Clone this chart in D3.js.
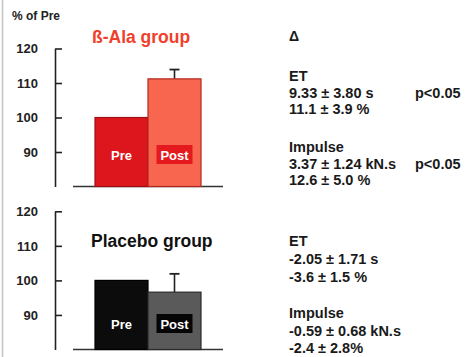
<!DOCTYPE html>
<html>
<head>
<meta charset="utf-8">
<script src="https://cdn.jsdelivr.net/npm/d3@7"></script>
<style>
  html, body { margin: 0; padding: 0; background: #fff; }
  svg { display: block; }
  text { font-family: "Liberation Sans", Arial, Helvetica, sans-serif; font-weight: bold; }
</style>
</head>
<body>
<svg id="chart" width="467" height="357"></svg>
<script>
// ---- data ----
const conditions = ["Pre", "Post"];
const yTicks = [90, 100, 110, 120];
const yDomain = [80, 120];
const yAxisTitle = "% of Pre";

const betaTitle = "ß-Ala group";
const betaValues = [100, 111.2];
const betaErrors = [0, 2.7];

const placeboTitle = "Placebo group";
const placeboValues = [100, 96.6];
const placeboErrors = [0, 5.3];

const deltaHeader = "Δ";
const betaStats = [
  ["ET", ""],
  ["9.33 ± 3.80 s", "p<0.05"],
  ["11.1 ± 3.9 %", ""],
  ["Impulse", ""],
  ["3.37 ± 1.24 kN.s", "p<0.05"],
  ["12.6 ± 5.0 %", ""]
];
const placeboStats = [
  ["ET", ""],
  ["-2.05 ± 1.71 s", ""],
  ["-3.6 ± 1.5 %", ""],
  ["Impulse", ""],
  ["-0.59 ± 0.68 kN.s", ""],
  ["-2.4 ± 2.8%", ""]
];

// ---- drawing ----
const svg = d3.select("#chart");

// left border line of the figure
svg.append("line").attr("x1", 2.5).attr("x2", 2.5).attr("y1", 0).attr("y2", 357)
  .attr("stroke", "#c4c4c4").attr("stroke-width", 1.5);

svg.append("text").attr("x", 12).attr("y", 20).attr("font-size", 12)
  .attr("fill", "#222").text(yAxisTitle);

const x = d3.scaleBand().domain(conditions).range([95, 201]).padding(0);

function panel(cfg) {
  const y = d3.scaleLinear().domain(yDomain).range(cfg.yRange);
  const g = svg.append("g");

  const axis = d3.axisLeft(y).tickValues(yTicks).tickSizeInner(-7).tickSizeOuter(0)
    .tickPadding(17).tickFormat(d3.format("d"));
  const ag = g.append("g").attr("transform", "translate(55,0)").call(axis);
  ag.select(".domain").attr("stroke", "#222").attr("stroke-width", 1.6);
  ag.selectAll(".tick line").attr("stroke", "#222").attr("stroke-width", 1.6);
  ag.selectAll(".tick text").attr("font-size", 13).attr("fill", "#222")
    .attr("font-family", "Liberation Sans, Arial, sans-serif").attr("font-weight", "bold");

  // baseline
  g.append("line")
    .attr("x1", x.range()[0] - 22).attr("x2", x.range()[1] + 22)
    .attr("y1", y(yDomain[0])).attr("y2", y(yDomain[0]))
    .attr("stroke", "#333").attr("stroke-width", 1.6);

  // error bars (upper only)
  conditions.forEach((c, i) => {
    if (cfg.errors[i] > 0) {
      const cx = x(c) + x.bandwidth() / 2;
      const yTop = y(cfg.values[i] + cfg.errors[i]);
      g.append("line").attr("x1", cx).attr("x2", cx)
        .attr("y1", y(cfg.values[i])).attr("y2", yTop)
        .attr("stroke", "#222").attr("stroke-width", 1.6);
      g.append("line").attr("x1", cx - 5).attr("x2", cx + 5)
        .attr("y1", yTop).attr("y2", yTop)
        .attr("stroke", "#222").attr("stroke-width", 1.8);
    }
  });

  // bars
  g.selectAll("rect.bar").data(conditions).enter().append("rect")
    .attr("class", "bar")
    .attr("x", d => x(d))
    .attr("width", x.bandwidth())
    .attr("y", (d, i) => y(cfg.values[i]))
    .attr("height", (d, i) => y(yDomain[0]) - y(cfg.values[i]))
    .attr("fill", (d, i) => cfg.fills[i])
    .attr("stroke", (d, i) => cfg.strokes[i])
    .attr("stroke-width", 1.2);

  // Post label box
  const px = x("Post") + x.bandwidth() / 2;
  g.append("rect").attr("x", px - 18).attr("width", 36)
    .attr("y", cfg.labelY - 15).attr("height", 19).attr("fill", cfg.boxFill);

  conditions.forEach(c => {
    g.append("text").attr("x", x(c) + x.bandwidth() / 2).attr("y", cfg.labelY)
      .attr("text-anchor", "middle").attr("font-size", 13).attr("fill", "#fff").text(c);
  });

  // group title
  g.append("text").attr("x", cfg.titleX).attr("y", cfg.titleY).attr("font-size", 17.5)
    .attr("fill", cfg.titleColor).text(cfg.title);

  // stats text
  cfg.stats.forEach((row, i) => {
    g.append("text").attr("x", 289).attr("y", cfg.statY[i]).attr("font-size", 14.5)
      .attr("fill", "#1a1a1a").text(row[0]);
    if (row[1]) {
      g.append("text").attr("x", 415).attr("y", cfg.statY[i]).attr("font-size", 14.5)
        .attr("fill", "#1a1a1a").text(row[1]);
    }
  });
}

svg.append("text").attr("x", 289).attr("y", 41).attr("font-size", 14)
  .attr("fill", "#1a1a1a").text(deltaHeader);

panel({
  yRange: [186.5, 48.5],
  values: betaValues, errors: betaErrors,
  fills: ["#dc161c", "#f8664f"], strokes: ["#9e0f12", "#b3281e"],
  boxFill: "#e41a1e", labelY: 160,
  title: betaTitle, titleColor: "#f0402c", titleX: 92, titleY: 43,
  stats: betaStats, statY: [81, 97.5, 114, 152, 168.5, 185]
});

panel({
  yRange: [349.5, 211.3],
  values: placeboValues, errors: placeboErrors,
  fills: ["#0c0c0c", "#5a5a5a"], strokes: ["#000", "#2a2a2a"],
  boxFill: "#050505", labelY: 329,
  title: placeboTitle, titleColor: "#111", titleX: 91, titleY: 247,
  stats: placeboStats, statY: [246, 264, 282, 318, 336, 353]
});
</script>
</body>
</html>
